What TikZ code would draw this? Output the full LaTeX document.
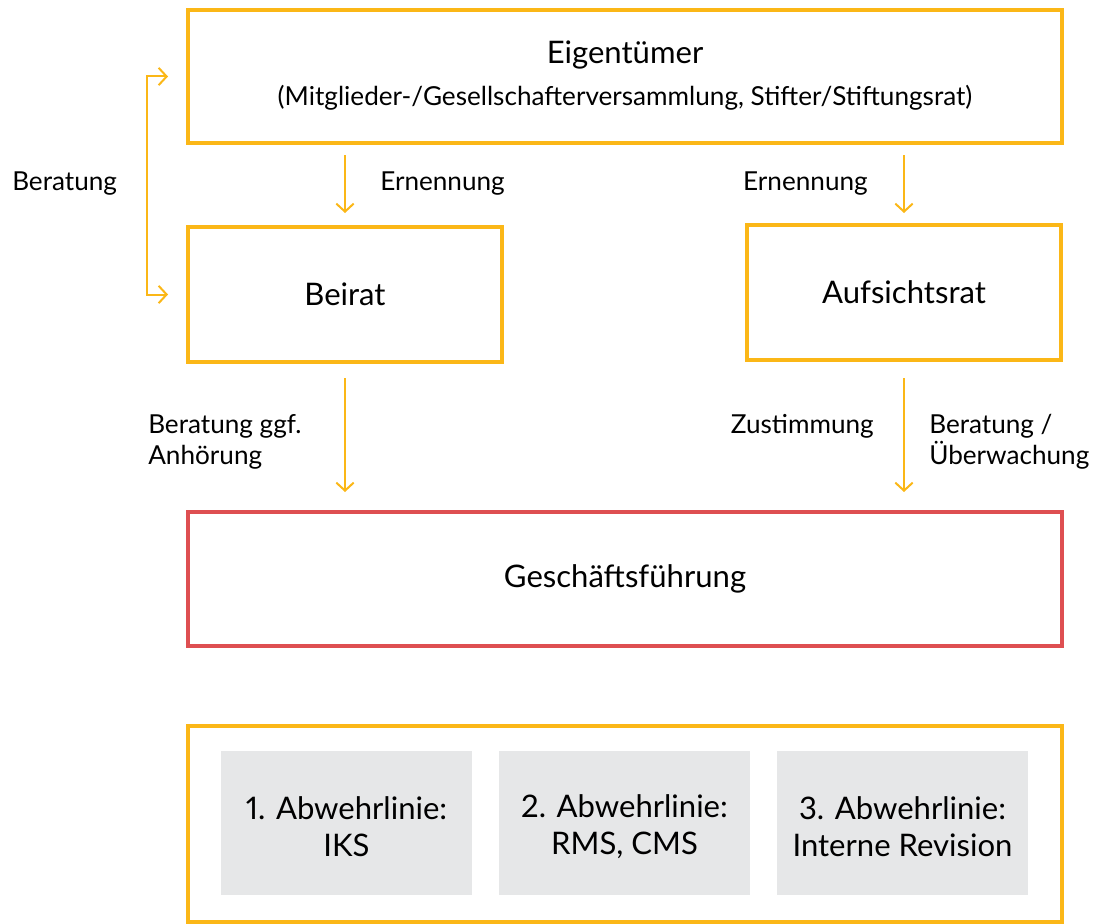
\documentclass[tikz,border=0pt]{standalone}
\usepackage{fontspec}
\setmainfont[Numbers=Proportional]{Lato}
\usetikzlibrary{arrows.meta,positioning}
\definecolor{gelb}{HTML}{FBB717}
\definecolor{rot}{HTML}{DE4F51}
\definecolor{grau}{HTML}{E6E7E8}
\newcommand{\gross}{\fontsize{23.3}{27.75}\selectfont}
\newcommand{\klein}{\fontsize{19.6}{23.25}\selectfont}

\begin{document}
\begin{tikzpicture}[x=0.75pt,y=-0.75pt,
    box/.style={draw=gelb, line width=3pt, inner sep=0pt, align=center, font=\gross},
    lbox/.style={fill=grau, minimum width=188.25pt, minimum height=108pt, align=center, font=\gross},
    pfeil/.style={draw=gelb, line width=1.5pt, -{Straight Barb[length=6pt,width=13pt]}},
    txt/.style={font=\klein, align=left, inner sep=0pt}]
            %\draw[help lines] (0,0) grid (1093,924);
            \useasboundingbox (0,0) rectangle (1093,924);
            % Kaesten
            \node[box, minimum width=655.5pt, minimum height=99.75pt] (eig) at (625,76.5) {};
            \node[font=\gross] (eigt) at (625,55) {Eigentümer};
            \node[font=\klein] (eigs) at (625,98) {(Mitglieder-/Gesellschafterversammlung, Stifter/Stiftungsrat)};
            \node[box, minimum width=235.5pt, minimum height=101.25pt] (beirat) at (345,294.5) {Beirat};
            \node[box, minimum width=235.5pt, minimum height=101.25pt] (auf) at (904,292.5) {Aufsichtsrat};
            \node[box, draw=rot, minimum width=655.5pt, minimum height=100.5pt] (gf) at (625,579) {Geschäftsführung};
            \node[box, minimum width=655.5pt, minimum height=147pt] (abw) at (625,824) {};
            \node[lbox] (l1) at (346.5,823) {};
            \node[lbox] (l2) at (624.5,823) {};
            \node[lbox] (l3) at (902.5,823) {};
            \node[font=\gross, align=center] at (346.5,827) {1. Abwehrlinie:\\IKS};
            \node[font=\gross, align=center] at (624.5,827) {2. Abwehrlinie:\\RMS, CMS};
            \node[font=\gross, align=center] at (902.5,827) {3. Abwehrlinie:\\Interne Revision};
            % Pfeile
            \draw[pfeil, shorten <=7.5pt, shorten >=9pt] (eig.south -| beirat.north) -- (beirat.north);
            \draw[pfeil, shorten <=7.5pt, shorten >=7.5pt] (eig.south -| auf.north) -- (auf.north);
            \draw[pfeil, shorten <=10.5pt, shorten >=13.5pt] (beirat.south) -- (gf.north -| beirat.south);
            \draw[pfeil, shorten <=12pt, shorten >=13.5pt] (auf.south) -- (gf.north -| auf.south);
            \coordinate (knick) at (147,0);
            \draw[pfeil, {Straight Barb[length=6pt,width=13pt]}-{Straight Barb[length=6pt,width=13pt]}, shorten <=13.5pt, shorten >=13.5pt]
                (eig.west) -| (knick |- beirat.west) -- (beirat.west);
            % Beschriftungen
            \node[txt, anchor=west] at (380,184) {Ernennung};
            \node[txt, anchor=east] at (868,184) {Ernennung};
            \node[txt, anchor=west] at (12,184) {Beratung};
            \node[txt, anchor=west] at (148,441.5) {Beratung ggf.\\Anhörung};
            \node[txt, anchor=east] at (874,426) {Zustimmung};
            \node[txt, anchor=west] at (929,441.5) {Beratung /\\Überwachung};
        \end{tikzpicture}
\end{document}
